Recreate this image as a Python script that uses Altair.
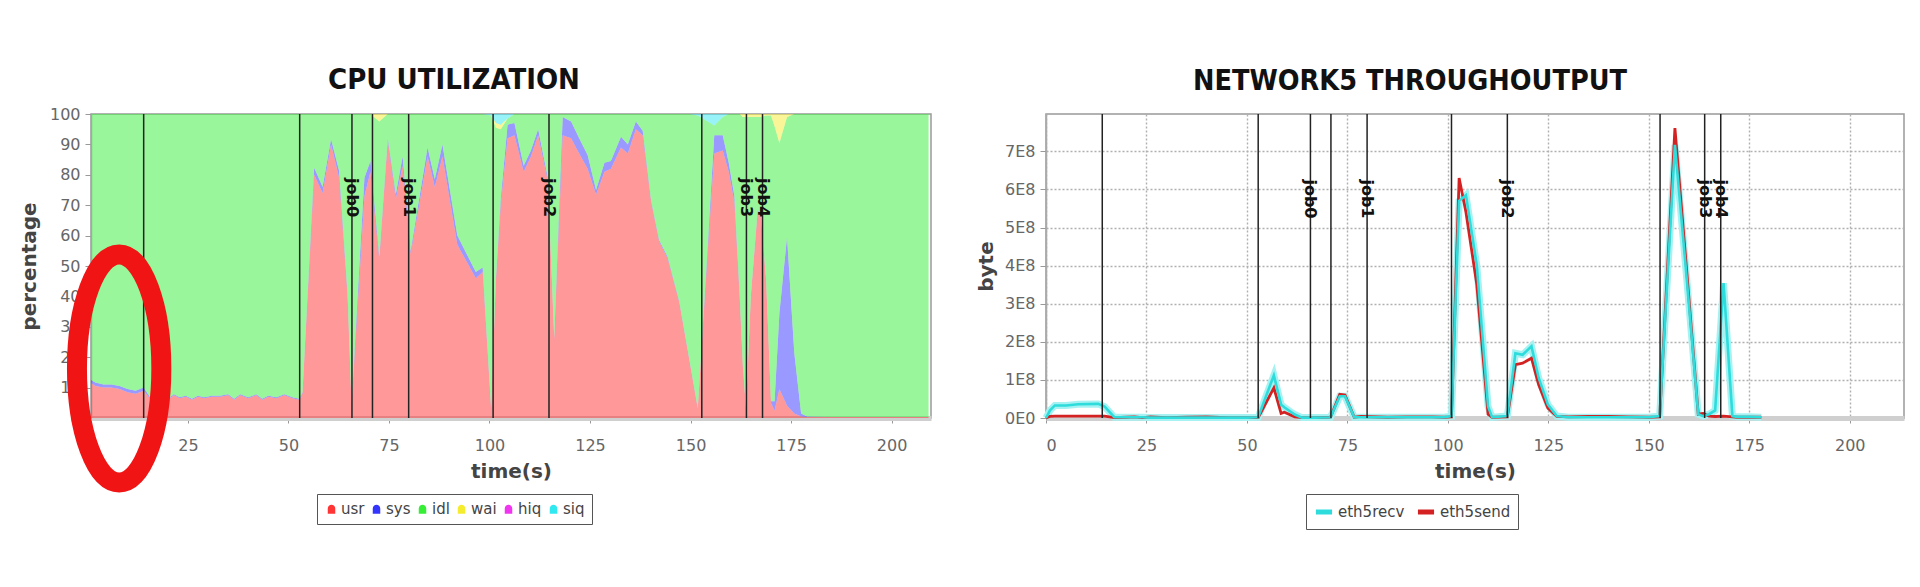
import altair as alt
import pandas as pd

# ---------------- CPU utilisation (percent) ----------------
cpu_time = [0.9, 2, 4, 6, 8, 10, 12, 14, 15.5, 17, 18.5, 20, 21.5, 23, 24.5, 26, 27.5, 29, 31, 33,
            35, 36.5, 38, 40, 42, 43.5, 45, 47, 49, 51, 52.7, 53.5, 56.4, 58.5, 60.6, 62.6, 64.7, 65.7,
            68.9, 70.4, 72.6, 74.7, 76.7, 78.4, 80.4, 84.6, 86.4, 88.3, 92.0, 96.6, 98.3, 100.4, 101.6,
            102.8, 104.5, 106.2, 108.5, 110.3, 112.1, 114.5, 116.1, 118.2, 120.3, 122.3, 124.4, 126.5,
            128.6, 130.2, 132.7, 134.4, 136.4, 138.1, 140.2, 142.2, 144.3, 147.2, 149.7, 151.8, 154.3,
            155.9, 158.0, 159.5, 160.9, 162.2, 163.0, 163.8, 165.0, 166.7, 167.5, 168.8, 170.0, 170.9,
            172.1, 174.0, 175.8, 177.5, 179.0, 185, 195, 205, 209.2]
cpu_usr = [11.5, 10.5, 10.0, 10.0, 9.5, 8.5, 8.0, 9.0, 6.5, 6.0, 7.5, 6.0, 7.5, 6.5, 7.0, 6.0, 7.0, 6.5, 7.0, 7.0,
           7.5, 6.0, 7.5, 6.5, 7.5, 6.0, 7.0, 6.5, 7.5, 6.5, 6.0, 8.0, 80.0, 74.0, 90.0, 79.0, 40.0, 4.0,
           73.0, 81.0, 52.0, 91.0, 72.0, 83.0, 54.0, 86.0, 76.0, 86.0, 57.0, 46.0, 48.0, 3.0, 45.0,
           70.0, 92.0, 93.0, 81.0, 86.0, 93.0, 78.0, 26.0, 93.0, 92.0, 87.0, 82.0, 73.5,
           81.0, 82.0, 89.0, 87.0, 95.0, 93.0, 71.0, 58.0, 52.5, 38.0, 19.0, 3.0, 55.0,
           87.0, 88.0, 81.0, 71.0, 40.0, 17.0, 3.0, 40.0, 68.0, 66.0, 45.0, 5.0, 2.5,
           9.5, 4.0, 1.5, 0.5, 0.3, 0.3, 0.3, 0.3, 0.3]
cpu_sys = [1.0, 1.2, 1.0, 1.0, 1.0, 1.0, 1.0, 1.0, 0.5, 0.3, 0.3, 0.3, 0.3, 0.3, 0.3, 0.3, 0.3, 0.3, 0.3, 0.3,
           0.3, 0.3, 0.3, 0.3, 0.3, 0.3, 0.3, 0.3, 0.3, 0.3, 0.3, 0.5, 2.3, 2.0, 1.7, 2.3, 1.0, 0.5,
           6.0, 3.5, 1.0, 1.0, 1.5, 3.0, 1.0, 3.0, 2.5, 4.0, 3.0, 2.0, 1.5, 0.5, 1.0,
           2.0, 4.5, 4.0, 2.0, 2.0, 2.0, 1.0, 0.5, 6.0, 5.5, 5.0, 4.5, 1.5,
           3.0, 2.5, 3.5, 3.0, 2.5, 1.5, 0.5, 0.5, 0.5, 0.3, 0.3, 0.2, 2.0,
           6.0, 5.0, 3.0, 2.0, 1.0, 0.5, 0.3, 0.5, 0.5, 0.5, 0.5, 0.5, 3.0,
           25.0, 55.5, 20.0, 1.0, 0.2, 0, 0, 0, 0]
cpu_idl = [87.5, 88.3, 89.0, 89.0, 89.5, 90.5, 91.0, 90.0, 93.0, 93.7, 92.2, 93.7, 92.2, 93.2, 92.7, 93.7, 92.7, 93.2, 92.7, 92.7,
           92.2, 93.7, 92.2, 93.2, 92.2, 93.7, 92.7, 93.2, 92.2, 93.2, 93.7, 91.5, 17.7, 24.0, 8.3, 18.7, 59.0, 95.5,
           21.0, 15.5, 44.5, 8.0, 26.5, 14.0, 45.0, 11.0, 21.5, 10.0, 40.0, 52.0, 50.5, 96.0, 49.5,
           23.0, 2.0, 3.0, 17.0, 12.0, 5.0, 21.0, 73.5, 1.0, 2.5, 8.0, 13.5, 25.0,
           16.0, 15.5, 7.5, 10.0, 2.5, 5.5, 28.5, 41.5, 47.0, 61.7, 80.7, 96.3, 40.5,
           3.2, 6.0, 16.0, 27.0, 59.0, 81.5, 95.7, 58.5, 30.5, 32.5, 54.0, 94.0, 90.5,
           56.0, 39.5, 78.5, 98.5, 99.5, 99.7, 99.7, 99.7, 99.7]
cpu_wai = [0] * 40 + [2.5] + [0] * 11 + [1.5, 1.5] + [0] * 30 + [1.0, 1.0, 1.0, 1.0, 1.0, 0.5, 0.5, 4.0,
           9.5, 1.0, 0, 0, 0, 0, 0, 0, 0]
cpu_hiq = [0] * len(cpu_time)
cpu_siq = [0] * 51 + [0.5, 3.0, 3.5, 1.5] + [0] * 22 + [0.5, 2.5, 3.8, 1.0] + [0] * 22

cpu_series = ["usr", "sys", "idl", "wai", "hiq", "siq"]
cpu_colors = ["#FF3434", "#3434FF", "#36EE36", "#F5EC30", "#F034F0", "#30E8F0"]

# ---------------- Network throughput (units of 1E8 bytes) ----------------
net_time = [0, 1, 2.2, 5, 8, 13, 14.6, 17, 20, 22, 24, 26, 30, 35, 40, 45, 50, 52.8, 56.7, 58.5,
            59.3, 61.9, 63.7, 67, 70.8, 73.1, 74.4, 76.7, 78.4, 85, 90, 93, 96, 99, 100.9, 102.8,
            104.5, 107.2, 110.0, 111.0, 114.8, 116.8, 118.6, 120.8, 122.6, 124.9, 127.1, 130, 135,
            140, 145, 150, 152.7, 156.5, 159.4, 162.3, 163.5, 165, 166.5, 168.6, 170.8, 172, 175, 178]
net_recv = [0, 0.2, 0.33, 0.33, 0.36, 0.37, 0.3, 0.02, 0.02, 0.02, 0.02, 0.01, 0.01, 0.01, 0.01, 0.01,
            0.01, 0.02, 1.12, 0.35, 0.28, 0.09, 0.01, 0.01, 0.02, 0.57, 0.57, 0.02, 0.02, 0.02, 0.02,
            0.02, 0.02, 0.02, 0.05, 5.7, 5.85, 4.0, 0.3, 0.02, 0.05, 1.7, 1.66, 1.88, 1.05, 0.35, 0.05,
            0.02, 0.02, 0.02, 0.02, 0.02, 0.05, 7.17, 3.7, 0.1, 0.05, 0.1, 0.2, 3.54, 0.05, 0.03, 0.03, 0.02]
net_send = [0, 0.04, 0.05, 0.05, 0.05, 0.05, 0.05, 0.01, 0.02, 0.03, 0.01, 0.03, 0.01, 0.02, 0.03, 0.01,
            0.01, 0.01, 0.79, 0.12, 0.15, 0.03, 0.01, 0.01, 0.02, 0.62, 0.6, 0.02, 0.04, 0.02, 0.03,
            0.03, 0.03, 0.02, 0.03, 6.3, 5.4, 3.5, 0.1, 0.02, 0.03, 1.4, 1.44, 1.57, 0.87, 0.26, 0.04,
            0.03, 0.04, 0.04, 0.03, 0.02, 0.03, 7.61, 3.9, 0.1, 0.12, 0.05, 0.04, 0.05, 0.03, 0.02, 0.02, 0.02]
net_series = ["eth5recv", "eth5send"]
net_colors = ["#2EDCDC", "#D42222"]

# ---------------- job markers ----------------
job_lines = [14.0, 52.8, 65.8, 70.9, 79.9, 100.9, 114.8, 152.8, 163.9, 167.9]
job_label_time = [65.8, 79.9, 114.8, 163.9, 167.9]
job_label_text = ["job0", "job1", "job2", "job3", "job4"]

# annotation (red ellipse) centre in data coordinates of the CPU chart
ring_time = [7.9]
ring_value = [16.3]

# ---------------- tables ----------------
cpu_cols = {"usr": cpu_usr, "sys": cpu_sys, "idl": cpu_idl, "wai": cpu_wai, "hiq": cpu_hiq, "siq": cpu_siq}
rows = []
for k, name in enumerate(cpu_series):
    for t, v in zip(cpu_time, cpu_cols[name]):
        rows.append({"t": t, "value": v, "series": name, "ord": k})
cpu_df = pd.DataFrame(rows)

net_rows = []
for name, vals in (("eth5recv", net_recv), ("eth5send", net_send)):
    for t, v in zip(net_time, vals):
        net_rows.append({"t": t, "value": v, "series": name})
net_df = pd.DataFrame(net_rows)
recv_df = net_df[net_df.series == "eth5recv"]
send_df = net_df[net_df.series == "eth5send"]

lines_df = pd.DataFrame({"t": job_lines})
labels_df = pd.DataFrame({"t": job_label_time, "label": job_label_text})
ring_df = pd.DataFrame({"t": ring_time, "value": ring_value})

H = 304
FONT = "DejaVu Sans"
TITLE_FONT = "DejaVu Sans Condensed, Liberation Sans Narrow, Roboto Condensed, Roboto, sans-serif"


def x_axis(grid):
    return alt.Axis(values=list(range(0, 201, 25)), title="time(s)", labelFont=FONT, labelFontSize=16,
                    labelColor="#666", tickColor="#999", tickSize=5, labelPadding=14,
                    domainColor="#cfcfcf", domainWidth=5, titleFont=FONT, titleFontSize=20,
                    titleFontWeight="bold", titleColor="#444", titlePadding=8, grid=grid,
                    gridColor="#b0b0b0", gridDash=[2, 2], gridWidth=1.4, labelOverlap=False)


def y_axis(title, values, grid, label_expr=None, title_pad=10):
    kw = dict(values=values, title=title, labelFont=FONT, labelFontSize=16, labelColor="#666",
              tickColor="#999", tickSize=6, labelPadding=5, domainColor="#aaa", domainWidth=1.5,
              titleFont=FONT, titleFontSize=20, titleFontWeight="bold", titleColor="#444",
              titlePadding=title_pad, grid=grid, gridColor="#b0b0b0", gridDash=[2, 2], gridWidth=1.4,
              labelOverlap=False)
    if label_expr:
        kw["labelExpr"] = label_expr
    return alt.Axis(**kw)


def title(text, size, dx, offset):
    return alt.TitleParams(text=text, font=TITLE_FONT, fontSize=size, fontWeight="bold", color="#111",
                           anchor="middle", dx=dx, offset=offset)


bell = "M-0.75,1 L-0.75,0 C-0.75,-1.1 0.75,-1.1 0.75,0 L0.75,1 Z"
ellipse = "M0,-1 A0.37,1 0 1,1 0,1 A0.37,1 0 1,1 0,-1 Z"

# ---------------- CPU chart ----------------
cpu_xax = x_axis(False)
cpu_yax = y_axis("percentage", list(range(0, 101, 10)), False)
cpu_xsc = alt.Scale(domain=[0.9, 209.8], nice=False, zero=False)
cpu_ysc = alt.Scale(domain=[0, 100], nice=False)

cpu_area = alt.Chart(cpu_df).mark_area(opacity=0.5, interpolate="linear").encode(
    x=alt.X("t:Q", scale=cpu_xsc, axis=cpu_xax),
    y=alt.Y("value:Q", stack="zero", scale=cpu_ysc, axis=cpu_yax),
    color=alt.Color("series:N", scale=alt.Scale(domain=cpu_series, range=cpu_colors),
                    legend=alt.Legend(orient="none", legendX=226, legendY=380, direction="horizontal",
                                      title=None, labelFont=FONT, labelFontSize=15, labelColor="#444",
                                      symbolType=bell, symbolSize=100, symbolOpacity=1,
                                      symbolStrokeWidth=0, strokeColor="#555", fillColor="white",
                                      padding=7, columnPadding=4, labelOffset=2)),
    order=alt.Order("ord:Q"),
)
cpu_rules = alt.Chart(lines_df).mark_rule(color="#222", strokeWidth=1.5).encode(
    x=alt.X("t:Q", scale=cpu_xsc, axis=cpu_xax))
cpu_text = alt.Chart(labels_df).mark_text(angle=90, font=FONT, fontSize=16, fontWeight="bold",
                                          color="#111", align="center", baseline="middle").encode(
    x=alt.X("t:Q", scale=cpu_xsc, axis=cpu_xax), y=alt.YDatum(72.5, scale=cpu_ysc, axis=cpu_yax),
    text="label:N")
cpu_ring = alt.Chart(ring_df).mark_point(shape=ellipse, size=52000, filled=False, stroke="#F01414",
                                         strokeWidth=20, opacity=1).encode(
    x=alt.X("t:Q", scale=cpu_xsc, axis=cpu_xax), y=alt.Y("value:Q", scale=cpu_ysc, axis=cpu_yax))
cpu_chart = alt.layer(cpu_area, cpu_rules, cpu_text, cpu_ring).properties(
    width=840, height=H, title=title("CPU UTILIZATION", 29, -57, 11))

# ---------------- Network chart ----------------
net_xax = x_axis(True)
net_yax = y_axis("byte", list(range(0, 8)), True,
                 label_expr="datum.value == 0 ? '0E0' : datum.value + 'E8'", title_pad=8)
net_xsc = alt.Scale(domain=[0, 213.5], nice=False, zero=False)
net_ysc = alt.Scale(domain=[0, 7.98], nice=False)
xn = alt.X("t:Q", scale=net_xsc, axis=net_xax)
yn = alt.Y("value:Q", scale=net_ysc, axis=net_yax)
net_color = alt.Color("series:N", scale=alt.Scale(domain=net_series, range=net_colors),
                      legend=alt.Legend(orient="none", legendX=260, legendY=380, direction="horizontal",
                                        title=None, labelFont=FONT, labelFontSize=15, labelColor="#444",
                                        symbolType="stroke", symbolSize=260, symbolStrokeWidth=5,
                                        strokeColor="#555", fillColor="white", padding=7,
                                        columnPadding=2, labelOffset=3))
net_glow = alt.Chart(recv_df).mark_line(color="#A6F2F2", strokeWidth=7).encode(x=xn, y=yn)
net_send_line = alt.Chart(send_df).mark_line(strokeWidth=2.8).encode(x=xn, y=yn, color=net_color)
net_recv_line = alt.Chart(recv_df).mark_line(strokeWidth=2.6).encode(x=xn, y=yn, color=net_color)
net_rules = alt.Chart(lines_df).mark_rule(color="#222", strokeWidth=1.5).encode(x=xn)
net_text = alt.Chart(labels_df).mark_text(angle=90, font=FONT, fontSize=16, fontWeight="bold",
                                          color="#111", align="center", baseline="middle").encode(
    x=xn, y=alt.YDatum(5.75, scale=net_ysc, axis=net_yax), text="label:N")
net_chart = alt.layer(net_glow, net_send_line, net_recv_line, net_rules, net_text).properties(
    width=858, height=H, title=title("NETWORK5 THROUGHOUTPUT", 28.5, -65, 18))

chart = alt.hconcat(cpu_chart, net_chart, spacing=43).resolve_scale(
    color="independent", x="independent", y="independent").resolve_legend(color="independent").properties(
    padding={"left": 10, "top": 57, "right": 5, "bottom": 5}
).configure_view(stroke="#999", strokeWidth=1.5)

chart.save("out.html", embed_options={"renderer": "svg", "actions": False})
